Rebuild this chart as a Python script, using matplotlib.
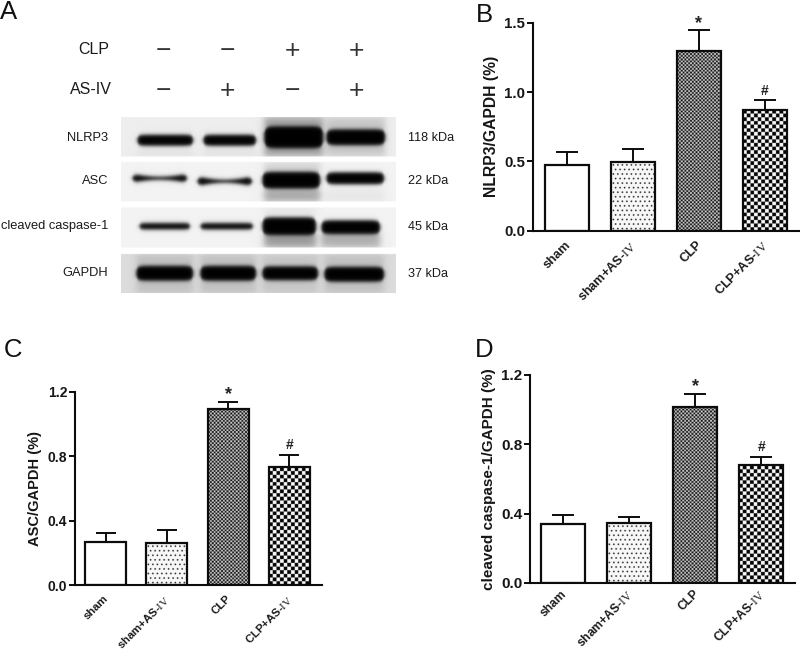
import numpy as np
import matplotlib
matplotlib.use('Agg')
import matplotlib.pyplot as plt
from matplotlib.transforms import ScaledTranslation

plt.rcParams['font.family'] = ['Liberation Sans', 'DejaVu Sans']
plt.rcParams['mathtext.fontset'] = 'custom'
plt.rcParams['mathtext.rm'] = 'Liberation Serif'
plt.rcParams['mathtext.default'] = 'regular'

groups = ['sham', 'sham+AS-$\\mathrm{IV}$', 'CLP', 'CLP+AS-$\\mathrm{IV}$']

nlrp3_mean = [0.474, 0.493, 1.298, 0.870]
nlrp3_err = [0.091, 0.098, 0.147, 0.070]
asc_mean = [0.270, 0.264, 1.090, 0.733]
asc_err = [0.056, 0.079, 0.048, 0.075]
casp_mean = [0.342, 0.344, 1.013, 0.678]
casp_err = [0.051, 0.038, 0.075, 0.047]

sig_marks = ['', '', '*', '#']
fills = ['plain', 'dots', 'fine', 'check']

clp_signs = ['\u2212', '\u2212', '+', '+']
as_signs = ['\u2212', '+', '\u2212', '+']
lane_x = [163, 227, 292, 356]

blot_names = ['NLRP3', 'ASC', 'cleaved caspase-1', 'GAPDH']
blot_sizes = ['118 kDa', '22 kDa', '45 kDa', '37 kDa']
blot_label_y = [138, 181, 226, 273]
size_label_y = [138, 181, 227, 274]

# blot rows: y top, y bottom, background grey
blot_rows = [(117, 156, 0.93), (162, 201, 0.95), (207.5, 247, 0.95), (254, 293, 0.86)]
# x0, x1, y centre, half height, waist (1 = no thinning in the middle)
blot_bands = [
    [(137, 193, 140, 5.5, 1), (203, 256, 140, 5.5, 1), (264, 323, 137, 11, 1), (326, 385, 137, 8, 1)],
    [(132, 187, 178, 3.5, 0.45), (197, 252, 181, 3.8, 0.4), (262, 320, 180, 8.5, 1), (326, 384, 178, 6, 1)],
    [(139, 190, 226, 3.2, 1), (200, 253, 226, 3.2, 1), (262, 316, 226, 9, 1), (321, 380, 227, 7, 1)],
    [(136, 193, 273, 7.5, 1), (200, 256, 273, 7.5, 1), (262, 318, 273, 7, 1), (324, 384, 274, 7.5, 1)],
]
# smears around the heavy bands: x0, x1, y0, y1, how dark
blot_smears = [
    (264, 323, 117, 156, 0.3), (326, 385, 117, 156, 0.15),
    (264, 320, 162, 201, 0.12), (264, 320, 190, 201, 0.18), (326, 384, 190, 201, 0.05),
    (264, 316, 232, 247, 0.35), (321, 380, 232, 247, 0.27), (264, 316, 207.5, 215, 0.05),
    (136, 193, 254, 293, 0.1), (200, 256, 254, 293, 0.1), (262, 318, 254, 293, 0.08), (324, 384, 254, 293, 0.1),
    (137, 193, 150, 156, 0.05), (203, 256, 150, 156, 0.05),
]


def soft_box(xx, yy, x0, x1, y0, y1, edge):
    ax_part = 0.5 * (np.tanh((xx - x0) / edge) - np.tanh((xx - x1) / edge))
    ay_part = 0.5 * (np.tanh((yy - y0) / edge) - np.tanh((yy - y1) / edge))
    return ax_part * ay_part


def make_blot():
    xs = np.arange(121, 396, 0.5)
    ys = np.arange(117, 293, 0.5)
    xx, yy = np.meshgrid(xs, ys)
    img = np.ones_like(xx)
    for row, (y0, y1, grey) in enumerate(blot_rows):
        mask = (yy >= y0) & (yy <= y1)
        layer = np.full_like(xx, grey)
        for sx0, sx1, sy0, sy1, amt in blot_smears:
            if sy0 >= y0 - 1 and sy1 <= y1 + 1:
                layer -= amt * soft_box(xx, yy, sx0, sx1, sy0, sy1, 4)
        for x0, x1, yc, half, waist in blot_bands[row]:
            mid = 0.5 * (x0 + x1)
            u = np.clip(np.abs(xx - mid) / (0.5 * (x1 - x0)), 0, 1)
            h = half * (waist + (1 - waist) * np.minimum(u * 1.25, 1) ** 2) * np.sqrt(1 - 0.75 * u ** 10)
            ends = 0.5 * (np.tanh((xx - x0) / 2.0) - np.tanh((xx - x1) / 2.0))
            across = 0.5 * (np.tanh((yy - yc + h) / 2.2) - np.tanh((yy - yc - h) / 2.2))
            layer = layer * (1 - 0.995 * ends * across)
        img[mask] = layer[mask]
    return np.clip(img, 0, 1)


def make_pattern(kind, w, h):
    # w, h in device pixels, array is 4x finer
    nx, ny = max(int(w * 4), 4), max(int(h * 4), 4)
    px = np.arange(nx) / 4.0
    py = np.arange(ny) / 4.0
    xx, yy = np.meshgrid(px, py)
    if kind == 'dots':
        per = 4.5
        row = np.floor(yy / per)
        dx = ((xx + row * per / 2) % per) - per / 2
        dy = (yy % per) - per / 2
        return np.where(dx ** 2 + dy ** 2 < 0.85 ** 2, 0.15, 0.97)
    if kind == 'fine':
        per = 1.85
        chk = (np.floor(xx / per) + np.floor(yy / per)) % 2
        return 0.08 + 0.72 * chk
    per = 3.65
    chk = (np.floor(xx / per) + np.floor(yy / per)) % 2
    return 0.02 + 0.95 * chk


def bar_panel(box, first_x, step, width, ytop, yticks, ylabel, means, errs, sizes, xlabel_pad):
    left, right, top, bottom = box
    tick_size, label_size, xt_size = sizes
    ax = fig.add_axes([left / W, 1 - bottom / H, (right - left) / W, (bottom - top) / H])
    ax.patch.set_alpha(0)
    ax.set_xlim((left - first_x) / step, (right - first_x) / step)
    ax.set_ylim(0, ytop)
    pos = np.arange(len(means))
    bars = ax.bar(pos, means, width=width / step, facecolor='none', edgecolor='#0c0c0c',
                  linewidth=1.6, zorder=3)
    px_per_y = (bottom - top) / ytop
    for rect, kind in zip(bars, fills):
        if kind == 'plain':
            continue
        h = rect.get_height() * px_per_y
        im = ax.imshow(make_pattern(kind, width, h), cmap='gray', vmin=0, vmax=1, aspect='auto',
                       extent=(rect.get_x(), rect.get_x() + rect.get_width(), 0, rect.get_height()),
                       origin='lower', zorder=2)
        im.set_clip_path(rect)
    ax.set_xlim((left - first_x) / step, (right - first_x) / step)
    ax.set_ylim(0, ytop)
    ax.errorbar(pos, means, yerr=[np.zeros(len(errs)), errs], fmt='none', ecolor='#0c0c0c',
                elinewidth=1.4, capsize=width * 0.24 * 0.72, capthick=1.4, zorder=1)
    for x, m, e, mark in zip(pos, means, errs, sig_marks):
        if mark == '*':
            ax.annotate(mark, (x, m + e), xytext=(0, -1), textcoords='offset points', ha='center',
                        va='bottom', fontsize=13, fontweight='bold', color='#222222')
        elif mark:
            ax.annotate(mark, (x, m + e), xytext=(0, 2), textcoords='offset points', ha='center',
                        va='bottom', fontsize=10, fontweight='bold', color='#222222')
    for side in ['top', 'right']:
        ax.spines[side].set_visible(False)
    for side in ['left', 'bottom']:
        ax.spines[side].set_linewidth(1.5)
        ax.spines[side].set_color('#0c0c0c')
    ax.set_yticks(yticks, [f'{v:.1f}' for v in yticks], fontsize=tick_size, fontweight='bold', color='#161616')
    ax.tick_params(axis='y', length=4.5, width=1.4, pad=1, color='#0c0c0c')
    ax.set_xticks(pos, groups, fontsize=xt_size, fontweight='bold', rotation=45, ha='right',
                  rotation_mode='anchor', color='#1c1c1c')
    ax.tick_params(axis='x', length=0, pad=xlabel_pad)
    nudge = ScaledTranslation(-2.5 / 100, 0, fig.dpi_scale_trans)
    for lab in ax.get_xticklabels():
        lab.set_transform(lab.get_transform() + nudge)
    ax.set_ylabel(ylabel, fontsize=label_size, fontweight='bold', color='#161616', labelpad=4)
    return ax


W, H = 800, 651
fig = plt.figure(figsize=(8, 6.51), dpi=100, facecolor='white')

# panel A lives in a full figure axes in pixel units
bg = fig.add_axes([0, 0, 1, 1])
bg.set_xlim(0, W)
bg.set_ylim(H, 0)
bg.axis('off')
bg.imshow(make_blot(), cmap='gray', vmin=0, vmax=1, extent=(121, 396, 293, 117), aspect='auto',
          interpolation='bilinear', zorder=1)
bg.set_xlim(0, W)
bg.set_ylim(H, 0)

bg.text(109, 50, 'CLP', fontsize=11.5, ha='right', va='center', color='#1a1a1a')
bg.text(112, 90, 'AS-IV', fontsize=11.5, ha='right', va='center', color='#1a1a1a')
for x, c, a in zip(lane_x, clp_signs, as_signs):
    bg.text(x, 51, c, fontsize=19, ha='center', va='center', color='#333333')
    bg.text(x, 91, a, fontsize=19, ha='center', va='center', color='#333333')
for name, size, y1, y2 in zip(blot_names, blot_sizes, blot_label_y, size_label_y):
    bg.text(108, y1, name, fontsize=9.3, ha='right', va='center', color='#1a1a1a')
    bg.text(408, y2, size, fontsize=9.1, ha='left', va='center', color='#1a1a1a')

panel_letters = [('A', 0, 12), ('B', 476, 15), ('C', 4, 350), ('D', 475, 350)]
for letter, x, y in panel_letters:
    bg.text(x, y, letter, fontsize=18.5, ha='left', va='center', color='#111111')

bar_panel((532.7, 799, 22.7, 230.7), 566.7, 66, 44, 1.5, [0.0, 0.5, 1.0, 1.5],
          'NLRP3/GAPDH (%)', nlrp3_mean, nlrp3_err, (10.8, 11.3, 9.2), 6)
bar_panel((75, 321.7, 391.7, 585.3), 105.5, 61.3, 41, 1.2, [0.0, 0.4, 0.8, 1.2],
          'ASC/GAPDH (%)', asc_mean, asc_err, (10, 10.5, 8.2), 5.5)
bar_panel((530, 795, 374.7, 583), 563, 66.1, 44, 1.2, [0.0, 0.4, 0.8, 1.2],
          'cleaved caspase-1/GAPDH (%)', casp_mean, casp_err, (11, 11, 8.7), 3.5)

fig.savefig('out.png', dpi=100)
